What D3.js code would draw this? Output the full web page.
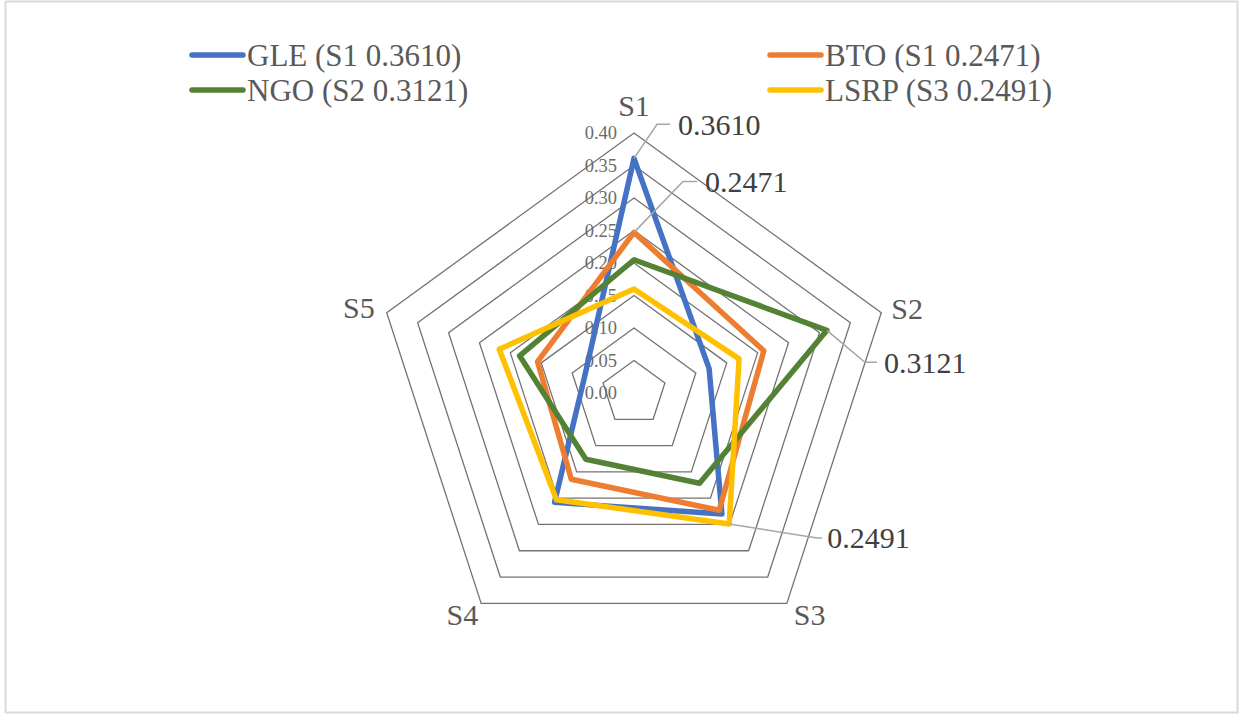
<!DOCTYPE html>
<html>
<head>
<meta charset="utf-8">
<script src="https://cdn.jsdelivr.net/npm/d3@7"></script>
<style>
  html, body { margin: 0; padding: 0; background: #ffffff; }
  svg { display: block; }
</style>
</head>
<body>
<script>
// Categories around the radar
const categories = ["S1", "S2", "S3", "S4", "S5"];

// Series values, one per category
const gle  = [0.3610, 0.1215, 0.2300, 0.2080, 0.0800];
const bto  = [0.2471, 0.2100, 0.2230, 0.1640, 0.1560];
const ngo  = [0.2050, 0.3121, 0.1715, 0.1260, 0.1850];
const lsrp = [0.1600, 0.1700, 0.2491, 0.2030, 0.2180];

const seriesNames  = ["GLE", "BTO", "NGO", "LSRP"];
const legendLabels = ["GLE (S1 0.3610)", "BTO (S1 0.2471)", "NGO (S2 0.3121)", "LSRP (S3 0.2491)"];

// Radial axis ticks
const tickValues = [0.00, 0.05, 0.10, 0.15, 0.20, 0.25, 0.30, 0.35, 0.40];

// Data labels: series index, category index, text
const dataLabels = [
  { s: 0, c: 0, text: "0.3610" },
  { s: 1, c: 0, text: "0.2471" },
  { s: 2, c: 1, text: "0.3121" },
  { s: 3, c: 2, text: "0.2491" }
];

const FONT = "'Liberation Serif', 'DejaVu Serif', serif";
const W = 1243, H = 719;
const cx = 634, cy = 393, R = 260;
const colors = ["#4472C4", "#ED7D31", "#548235", "#FFC000"];
const allSeries = [gle, bto, ngo, lsrp];

const svg = d3.select("body").append("svg").attr("width", W).attr("height", H)
  .attr("font-family", FONT);

// chart frame
svg.append("rect").attr("x", 5.5).attr("y", 1.5).attr("width", 1232).attr("height", 711)
  .attr("fill", "#ffffff").attr("stroke", "#d9d9d9").attr("stroke-width", 2);

const r = d3.scaleLinear().domain([0, 0.4]).range([0, R]);
const angle = d3.scalePoint().domain(categories).range([0, 2 * Math.PI * 4 / 5]);
const pt = (cat, v) => {
  const a = angle(cat) - Math.PI / 2;
  return [cx + r(v) * Math.cos(a), cy + r(v) * Math.sin(a)];
};

const g = svg.append("g");

// gridline pentagons
const ring = d3.line().curve(d3.curveLinearClosed);
g.selectAll("path.grid").data(tickValues.filter(t => t > 0)).join("path")
  .attr("class", "grid")
  .attr("d", t => ring(categories.map(c => pt(c, t))))
  .attr("fill", "none").attr("stroke", "#757171").attr("stroke-width", 1.3);

// radial tick labels
g.selectAll("text.tick").data(tickValues).join("text")
  .attr("class", "tick")
  .attr("x", cx - 17).attr("y", t => cy - r(t))
  .attr("dy", "0.35em")
  .attr("text-anchor", "end")
  .attr("font-family", FONT)
  .attr("font-size", 18.5).attr("fill", "#6b6b6b")
  .text(d3.format(".2f"));

// series polygons
allSeries.forEach((vals, i) => {
  g.append("path")
    .attr("d", ring(categories.map((c, k) => pt(c, vals[k]))))
    .attr("fill", "none").attr("stroke", colors[i]).attr("stroke-width", 5.5)
    .attr("stroke-linejoin", "round");
});

// category labels
const catLayout = [
  { dx: 0, dy: -28, anchor: "middle" },
  { dx: 10, dy: -4, anchor: "start" },
  { dx: 7, dy: 11, anchor: "start" },
  { dx: -3, dy: 11, anchor: "end" },
  { dx: -12, dy: -5, anchor: "end" }
];
categories.forEach((c, k) => {
  const [x, y] = pt(c, 0.4);
  g.append("text")
    .attr("x", x + catLayout[k].dx).attr("y", y + catLayout[k].dy)
    .attr("dy", "0.35em").attr("text-anchor", catLayout[k].anchor)
    .attr("font-family", FONT)
    .attr("font-size", 30).attr("fill", "#595959").text(c);
});

// data labels with leader lines
const leader = [
  { ex: 23, ey: -34, hx: 13, tx: 8 },
  { ex: 49, ey: -51, hx: 14, tx: 8 },
  { ex: 38, ey: 32, hx: 12, tx: 7 },
  { ex: 88, ey: 14, hx: 5, tx: 5 }
];
dataLabels.forEach((d, i) => {
  const [x, y] = pt(categories[d.c], allSeries[d.s][d.c]);
  const L = leader[i];
  g.append("polyline")
    .attr("points", [[x, y], [x + L.ex, y + L.ey], [x + L.ex + L.hx, y + L.ey]].map(p => p.join(",")).join(" "))
    .attr("fill", "none").attr("stroke", "#a6a6a6").attr("stroke-width", 1.5);
  g.append("text")
    .attr("x", x + L.ex + L.hx + L.tx).attr("y", y + L.ey)
    .attr("dy", "0.35em")
    .attr("font-family", FONT)
    .attr("font-size", 30).attr("fill", "#404040").text(d.text);
});

// legend (two columns, two rows)
const legendPos = [
  { x: 190, y: 55 }, { x: 768, y: 55 },
  { x: 190, y: 90 }, { x: 768, y: 90 }
];
seriesNames.forEach((n, i) => {
  const p = legendPos[i];
  svg.append("line")
    .attr("x1", p.x + 2).attr("x2", p.x + 53).attr("y1", p.y).attr("y2", p.y)
    .attr("stroke", colors[i]).attr("stroke-width", 5.5).attr("stroke-linecap", "round");
  svg.append("text")
    .attr("x", p.x + 57).attr("y", p.y).attr("dy", "0.35em")
    .attr("font-family", FONT)
    .attr("font-size", 31).attr("fill", "#595959").text(legendLabels[i]);
});
</script>
</body>
</html>
